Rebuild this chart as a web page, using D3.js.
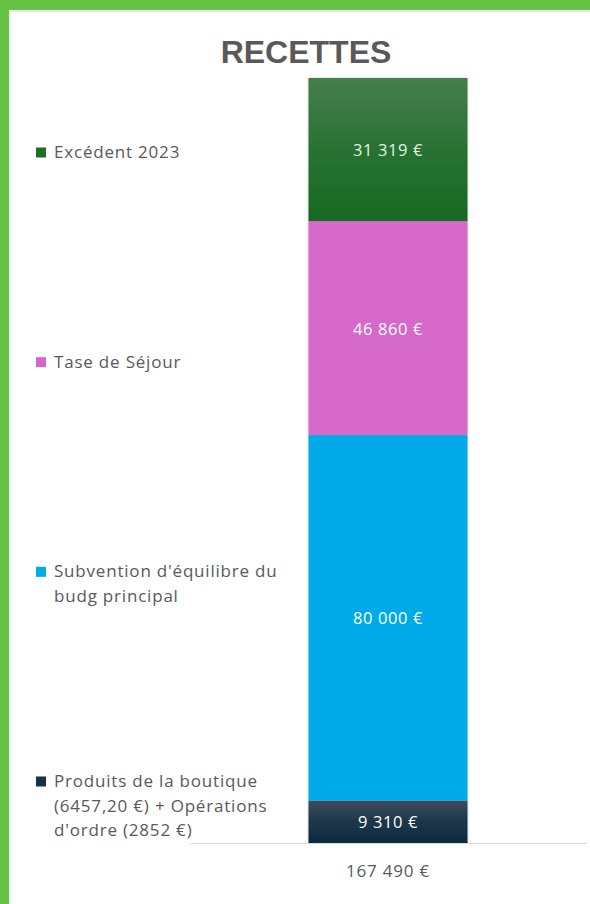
<!DOCTYPE html>
<html>
<head>
<meta charset="utf-8">
<script src="https://cdn.jsdelivr.net/npm/d3@7"></script>
<style>
  html, body { margin: 0; padding: 0; background: #fff; }
  svg { display: block; }
</style>
</head>
<body>
<svg id="chart" width="590" height="904"></svg>
<script>
const title = "RECETTES";
const category = "Recettes";
const seriesNames = ["Produits de la boutique (6457,20 €) + Opérations d'ordre (2852 €)", "Subvention d'équilibre du budg principal", "Tase de Séjour", "Excédent 2023"];
const seriesValues = [9310, 80000, 46860, 31319];
const seriesColors = ["#14324a", "#00aae8", "#d567c9", "#1f6e2a"];
const legendLines = [["Produits de la boutique", "(6457,20 €) + Opérations", "d'ordre (2852 €)"], ["Subvention d'équilibre du", "budg principal"], ["Tase de Séjour"], ["Excédent 2023"]];
const totalLabel = "167 490 €";

const fmt = v => d3.format(",")(v).replace(/,/g, " ") + " €";
const FONT = "'Open Sans', 'Noto Sans', sans-serif";

const svg = d3.select("#chart");
const W = 590, H = 904;

// frame
svg.append("rect").attr("x", 0).attr("y", 0).attr("width", W).attr("height", H).attr("fill", "#ffffff");
svg.append("rect").attr("x", 0).attr("y", 0).attr("width", W).attr("height", 10).attr("fill", "#68c243");
svg.append("rect").attr("x", 0).attr("y", 0).attr("width", 9).attr("height", H).attr("fill", "#68c243");
svg.append("rect").attr("x", 9).attr("y", 10).attr("width", W - 9).attr("height", 2).attr("fill", "#e6e6e6");
svg.append("rect").attr("x", 9).attr("y", 10).attr("width", 2).attr("height", H).attr("fill", "#ececec");

const defs = svg.append("defs");
const grads = [
  ["g0", "#3d4e5e", "#0c2a40"],
  ["g1", "#00aae8", "#00aae8"],
  ["g2", "#d567c9", "#d567c9"],
  ["g3", "#457e4c", "#166a22"]
];
grads.forEach(([id, a, b]) => {
  const g = defs.append("linearGradient").attr("id", id).attr("x1", 0).attr("y1", 0).attr("x2", 0).attr("y2", 1);
  g.append("stop").attr("offset", "0%").attr("stop-color", a);
  g.append("stop").attr("offset", id === "g0" ? "45%" : "50%").attr("stop-color", d3.interpolateRgb(a, b)(0.6));
  g.append("stop").attr("offset", "100%").attr("stop-color", b);
});
const f = defs.append("filter").attr("id", "sh").attr("x", "-10%").attr("y", "-5%").attr("width", "120%").attr("height", "110%");
f.append("feDropShadow").attr("dx", 0).attr("dy", 0).attr("stdDeviation", 1.5).attr("flood-color", "#000").attr("flood-opacity", 0.18);

// title
svg.append("text").attr("x", 306).attr("y", 63).attr("text-anchor", "middle")
  .attr("font-family", "'Liberation Sans', Arial, sans-serif").attr("font-weight", "bold")
  .attr("font-size", 32).attr("fill", "#595959").text(title);

// data
const row = { cat: category };
seriesNames.forEach((n, i) => row[n] = seriesValues[i]);
const stack = d3.stack().keys(seriesNames)([row]);
const total = d3.sum(seriesValues);

const x = d3.scaleBand().domain([category]).range([190, 586]).paddingInner(0).paddingOuter(0.745);
const y = d3.scaleLinear().domain([0, total]).range([843, 78]);

// bars
const bars = svg.append("g").attr("filter", "url(#sh)");
stack.forEach((s, i) => {
  const d = s[0];
  bars.append("rect")
    .attr("x", x(category)).attr("width", x.bandwidth())
    .attr("y", y(d[1])).attr("height", y(d[0]) - y(d[1]))
    .attr("fill", `url(#g${i})`);
});

// value labels
stack.forEach((s, i) => {
  const d = s[0];
  svg.append("text")
    .attr("x", x(category) + x.bandwidth() / 2)
    .attr("y", (y(d[0]) + y(d[1])) / 2 + 6.5)
    .attr("text-anchor", "middle")
    .attr("font-family", FONT)
    .attr("font-size", 16.5).attr("letter-spacing", 0.6)
    .attr("fill", i === 3 ? "#e3f4e3" : "#ffffff")
    .text(fmt(seriesValues[i]));
});

// axis baseline
const axisG = svg.append("g").attr("transform", `translate(0,${y(0)})`);
axisG.call(d3.axisBottom(x).tickSize(0).tickFormat(() => totalLabel));
axisG.select(".domain").attr("stroke", "#d9d9d9").attr("stroke-width", 1.2);
axisG.selectAll(".tick text").attr("dy", 0).attr("y", 34)
  .attr("font-family", FONT).attr("font-size", 17).attr("letter-spacing", 0.8).attr("fill", "#595959");

// legend
const legendY = d3.scaleLinear().domain([3, 0]).range([158, 787]);
legendLines.forEach((lines, i) => {
  const ly = legendY(i);
  const g = svg.append("g");
  g.append("rect").attr("x", 36).attr("y", ly - 10.5).attr("width", 10).attr("height", 10).attr("fill", seriesColors[i]);
  lines.forEach((t, j) => {
    g.append("text").attr("x", 54).attr("y", ly + j * 24.5)
      .attr("font-family", FONT).attr("font-size", 17).attr("letter-spacing", 0.8)
      .attr("fill", "#595959").text(t);
  });
});
</script>
</body>
</html>
